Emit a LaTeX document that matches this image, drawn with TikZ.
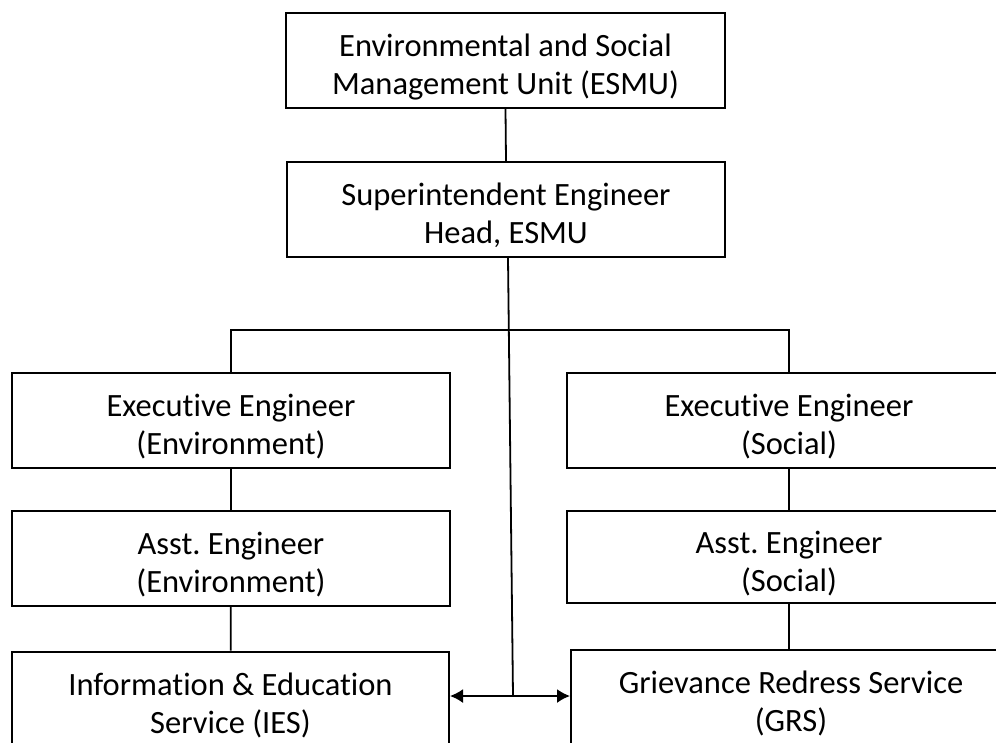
\documentclass[tikz,border=0pt]{standalone}
\usepackage{fontspec}
\setmainfont{Carlito}[Ligatures=NoCommon]
\usetikzlibrary{arrows.meta}
\frenchspacing
\newcommand{\topstrut}{\rule{0pt}{35pt}}
\tikzset{
  box/.style={draw=black, line width=2pt, fill=white, minimum height=95pt, align=center, inner sep=0pt, font=\fontsize{32.5}{38}\selectfont},
  conn/.style={line width=1.8pt, draw=black},
}
\begin{document}
\begin{tikzpicture}[x=1pt,y=-1pt]
\useasboundingbox (0,0) rectangle (996,742);
\clip (0,0) rectangle (996,742);
\fill[white] (0,0) rectangle (996,742);
\node[box, minimum width=439pt] (esmu) at (505.5,60.5) {\topstrut Environmental and Social\\Management Unit (ESMU)};
\node[box, minimum width=438pt] (se) at (506,209.5) {\topstrut Superintendent Engineer\\Head, ESMU};
\node[box, minimum width=438pt] (ee) at (231,420.5) {\topstrut Executive Engineer\\(Environment)};
\node[box, minimum width=438pt] (ae) at (231,558.5) {\topstrut Asst. Engineer\\(Environment)};
\node[box, minimum width=437pt] (ies) at (230.5,699) {\topstrut Information \& Education\\Service (IES)};
\node[box, minimum width=444pt] (es) at (789,420.5) {\topstrut Executive Engineer\\(Social)};
\node[box, minimum width=444pt, minimum height=92pt] (as) at (789,557) {\topstrut Asst. Engineer\\(Social)};
\node[box, minimum width=440pt] (grs) at (791,697.5) {\topstrut Grievance Redress Service\\(GRS)};
\coordinate (mid) at (513,696);
\draw[conn] (esmu.south) -- (se.north);
\draw[conn] (se.south) ++(2,0) -- (mid);
\draw[conn] (ee.north) -- ++(0,-42) -| (es.north);
\draw[conn] (ee) -- (ae);
\draw[conn] (ae) -- (ies);
\draw[conn] (es) -- (as);
\draw[conn] (as) -- (grs.north -| as.south);
\draw[conn, {Latex[length=13pt,width=14pt]}-{Latex[length=13pt,width=14pt]}] (ies.east |- mid) -- (grs.west |- mid);
\end{tikzpicture}
\end{document}
